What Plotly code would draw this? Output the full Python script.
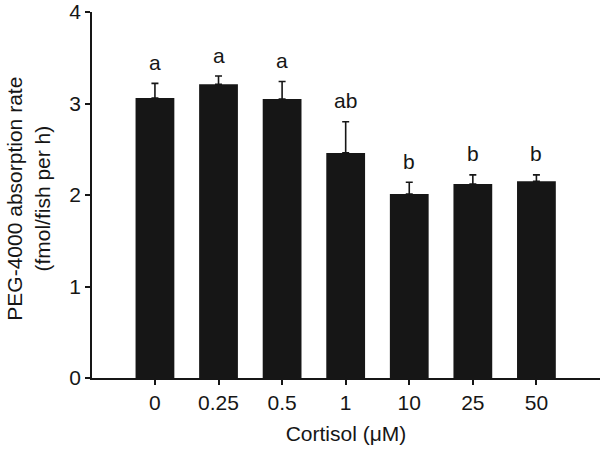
import plotly.graph_objects as go

# Cortisol doses (uM) and PEG-4000 absorption rate (fmol/fish per h)
doses = ["0", "0.25", "0.5", "1", "10", "25", "50"]
means = [3.06, 3.21, 3.05, 2.46, 2.01, 2.12, 2.15]
sems = [0.16, 0.09, 0.19, 0.34, 0.13, 0.10, 0.07]
letters = ["a", "a", "a", "ab", "b", "b", "b"]

FONT = "Liberation Sans, Arial, sans-serif"
INK = "#161616"

fig = go.Figure()
fig.add_trace(go.Bar(
    x=doses,
    y=means,
    marker=dict(color=INK, line=dict(width=0)),
    error_y=dict(type="data", symmetric=False, array=sems,
                 arrayminus=[0] * len(sems), color=INK,
                 thickness=1.6, width=3.5),
))

# significance letters above each error bar (category index as x)
for i, (m, s, lab) in enumerate(zip(means, sems, letters)):
    fig.add_annotation(x=i, y=m + s, text=lab, showarrow=False,
                       yanchor="middle", yshift=21,
                       font=dict(family=FONT, size=21, color=INK))

fig.add_annotation(
    text="PEG-4000 absorption rate<br>(fmol/fish per h)",
    xref="paper", yref="paper", x=0, y=0.49, xshift=-64,
    xanchor="center", yanchor="middle", textangle=-90, showarrow=False,
    font=dict(family=FONT, size=21, color=INK),
)

fig.update_layout(
    width=600, height=450,
    margin=dict(l=92, r=0, t=12, b=72),
    paper_bgcolor="white", plot_bgcolor="white",
    bargap=0.39,
    showlegend=False,
    font=dict(family=FONT, size=21, color=INK),
)
fig.update_xaxes(
    type="category", range=[-0.99, 7.0], automargin=False,
    showline=True, linecolor=INK, linewidth=1.5,
    ticks="outside", ticklen=5, tickcolor=INK, tickwidth=1.5,
    showgrid=False,
    title=dict(text="Cortisol (μM)", standoff=13,
               font=dict(family=FONT, size=21)),
)
fig.update_yaxes(
    range=[0, 4], tickvals=[0, 1, 2, 3, 4], automargin=False,
    ticklabeloverflow="allow",
    showline=True, linecolor=INK, linewidth=1.5,
    ticks="outside", ticklen=5, tickcolor=INK, tickwidth=1.5,
    showgrid=False, zeroline=False,
)

# drop the browser's default body margin so the figure sits at the corner
fig.write_html("out.html", config={"displayModeBar": False},
               post_script="document.body.style.margin='0';")
